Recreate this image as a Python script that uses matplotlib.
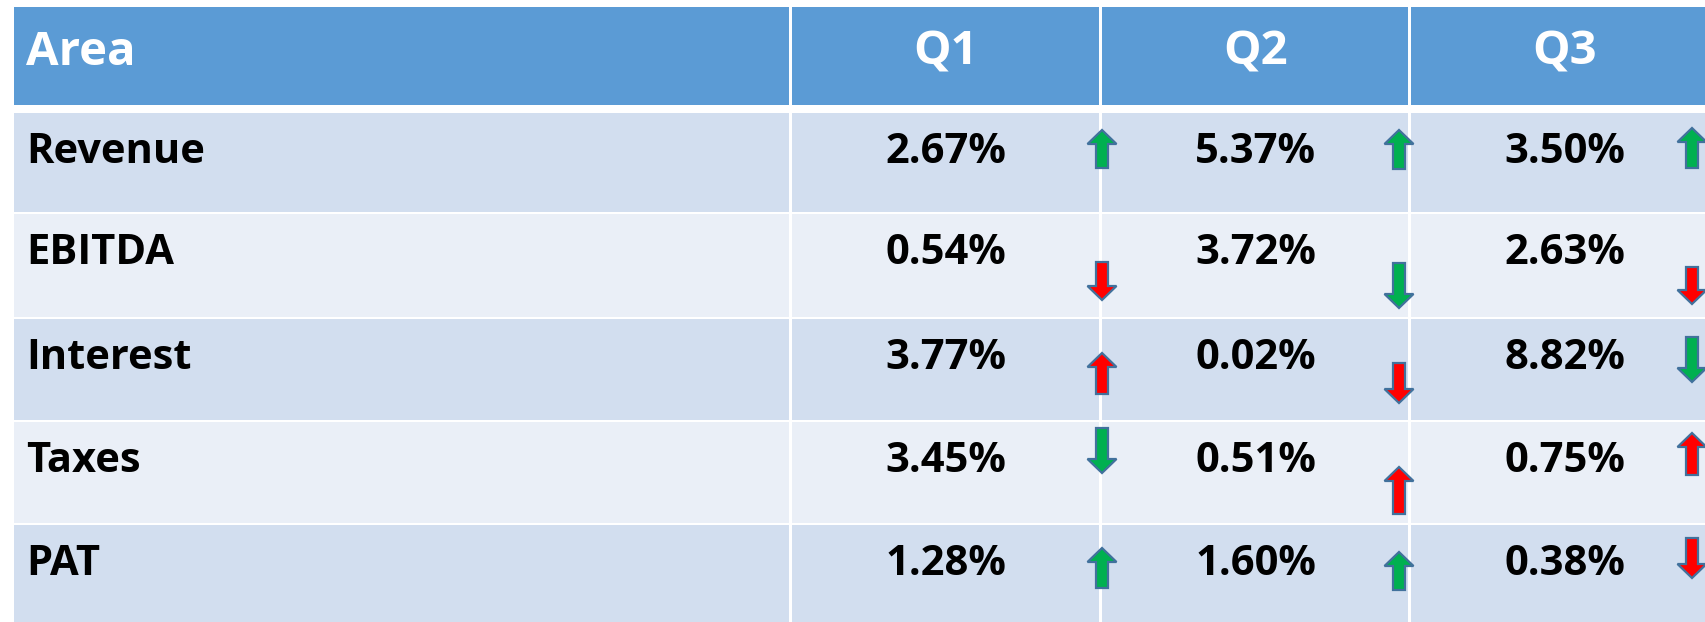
#!/usr/bin/env python3
# -*- coding: utf-8 -*-

# Import libraries
import matplotlib.pyplot as plt
from matplotlib.patches import Rectangle, Polygon

# Table data
header = ["Area", "Q1", "Q2", "Q3"]
areas = ["Revenue", "EBITDA", "Interest", "Taxes", "PAT"]
q1 = ["2.67%", "0.54%", "3.77%", "3.45%", "1.28%"]
q2 = ["5.37%", "3.72%", "0.02%", "0.51%", "1.60%"]
q3 = ["3.50%", "2.63%", "8.82%", "0.75%", "0.38%"]

# Arrow direction (1 = up, -1 = down) and colour per cell
q1_dir = [1, -1, 1, -1, 1]
q2_dir = [1, -1, -1, 1, 1]
q3_dir = [1, -1, -1, 1, -1]
q1_col = ["g", "r", "r", "g", "g"]
q2_col = ["g", "g", "r", "r", "g"]
q3_col = ["g", "r", "g", "r", "r"]

# Layout (pixels)
W, H = 1706, 622
col_edges = [13, 791, 1101, 1410, 1719]
head_top, head_bot = 7, 105
row_tops = [113, 214, 319, 422, 525]
row_bots = [212, 317, 420, 523, 640]
gap = 1.5
arrow_x = [1102, 1399, 1692]
arrow_top = [[17, 48, 34, 6, 23], [17, 49, 44, 45, 27], [15, 53, 18, 11, 13]]
arrow_h = [[38, 38, 41, 45, 40], [39, 45, 40, 47, 38], [40, 37, 45, 42, 40]]

HEAD_BG = "#5B9BD5"
ROW_BG = ["#D2DEEF", "#EAEFF7"]
ARROW_FILL = {"g": "#00B050", "r": "#FF0000"}
ARROW_EDGE = "#41719C"

plt.rcParams["font.family"] = ["Open Sans", "DejaVu Sans"]

fig = plt.figure(figsize=(W / 100, H / 100), dpi=100)
ax = fig.add_axes([0, 0, 1, 1])
ax.set_xlim(0, W)
ax.set_ylim(H, 0)
ax.axis("off")


def cell(x0, x1, y0, y1, color):
    ax.add_patch(Rectangle((x0 + gap, y0), x1 - x0 - 2 * gap, y1 - y0,
                           facecolor=color, edgecolor="none"))


def arrow(xc, top, h, direction, color):
    hw, sw, hl = 14.5, 6, 14
    if direction > 0:
        pts = [(xc, top), (xc + hw, top + hl), (xc + sw, top + hl),
               (xc + sw, top + h), (xc - sw, top + h), (xc - sw, top + hl),
               (xc - hw, top + hl)]
    else:
        b = top + h
        pts = [(xc, b), (xc + hw, b - hl), (xc + sw, b - hl),
               (xc + sw, top), (xc - sw, top), (xc - sw, b - hl),
               (xc - hw, b - hl)]
    ax.add_patch(Polygon(pts, closed=True, facecolor=ARROW_FILL[color],
                         edgecolor=ARROW_EDGE, linewidth=1.6, zorder=5))


# Header row
for j, name in enumerate(header):
    x0, x1 = col_edges[j], col_edges[j + 1]
    cell(x0, x1, head_top, head_bot, HEAD_BG)
    if j == 0:
        ax.text(x0 + 13, head_top + 58, name, color="white", fontsize=34,
                fontweight="bold", ha="left", va="baseline")
    else:
        ax.text((x0 + x1) / 2, head_top + 58, name, color="white", fontsize=34,
                fontweight="bold", ha="center", va="baseline")

# Body rows
quarters = [q1, q2, q3]
dirs = [q1_dir, q2_dir, q3_dir]
cols = [q1_col, q2_col, q3_col]
for i, area in enumerate(areas):
    y0, y1 = row_tops[i], row_bots[i]
    bg = ROW_BG[i % 2]
    for j in range(4):
        cell(col_edges[j], col_edges[j + 1], y0, y1, bg)
    ax.text(col_edges[0] + 13, y0 + 50, area, color="black", fontsize=30,
            fontweight="bold", ha="left", va="baseline")
    for q in range(3):
        x0, x1 = col_edges[q + 1], col_edges[q + 2]
        ax.text((x0 + x1) / 2, y0 + 50, quarters[q][i], color="black",
                fontsize=30, fontweight="bold", ha="center", va="baseline")
        arrow(arrow_x[q], y0 + arrow_top[q][i], arrow_h[q][i],
              dirs[q][i], cols[q][i])

fig.savefig("out.png", dpi=100, facecolor="white")
plt.close(fig)
